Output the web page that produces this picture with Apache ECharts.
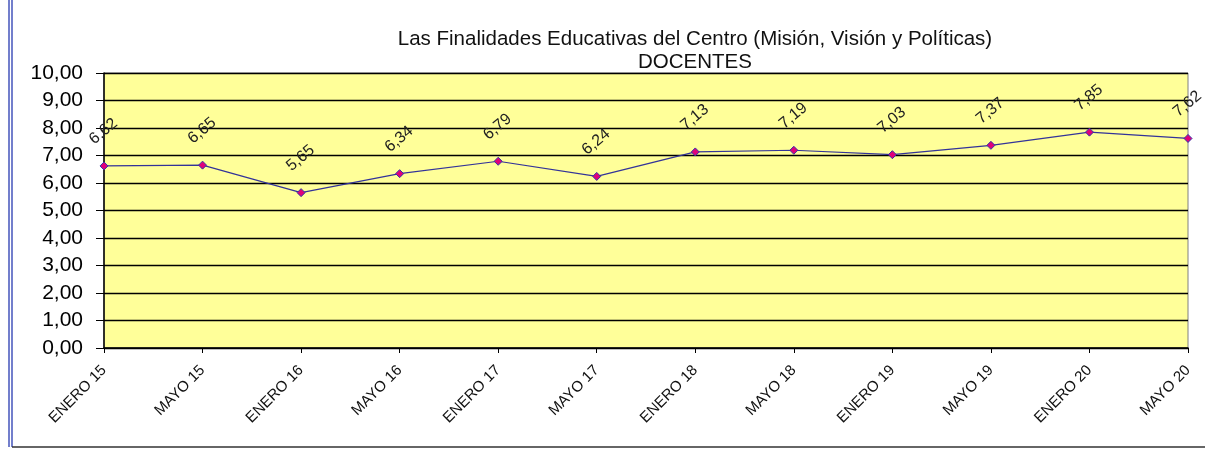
<!DOCTYPE html>
<html><head><meta charset="utf-8">
<script src="https://cdn.jsdelivr.net/npm/echarts@6/dist/echarts.min.js"></script>
<style>html,body{margin:0;padding:0;background:#fff}#c{width:1205px;height:450px}</style>
</head><body><div id="c"></div>
<script>
const categories = ['ENERO 15','MAYO 15','ENERO 16','MAYO 16','ENERO 17','MAYO 17','ENERO 18','MAYO 18','ENERO 19','MAYO 19','ENERO 20','MAYO 20'];
const values = [6.62, 6.65, 5.65, 6.34, 6.79, 6.24, 7.13, 7.19, 7.03, 7.37, 7.85, 7.62];
const titleLine1 = 'Las Finalidades Educativas del Centro (Misión, Visión y Políticas)';
const titleLine2 = 'DOCENTES';

const fmt = v => v.toFixed(2).replace('.', ',');
const chart = echarts.init(document.getElementById('c'), null, {renderer:'canvas'});
const FONT = '"Liberation Sans", Arial, sans-serif';
chart.setOption({
  animation: false,
  title: {
    text: titleLine1 + '\n' + titleLine2,
    left: 690, top: 23, textAlign: 'center',
    textStyle: {fontFamily: FONT, fontSize: 20.5, fontWeight: 'normal', color: '#111', lineHeight: 23}
  },
  grid: {left: 104, right: 17, top: 73, bottom: 102, show: true, backgroundColor: '#FFFF99', borderColor: '#808080', borderWidth: 1},
  xAxis: {
    type: 'category', data: categories, boundaryGap: false,
    axisLine: {lineStyle: {color: '#000', width: 1.5}},
    axisTick: {show: true, length: 5, lineStyle: {color: '#000'}},
    axisLabel: {rotate: 45, fontFamily: FONT, fontSize: 15, color: '#111', margin: 20}
  },
  yAxis: {
    type: 'value', min: 0, max: 10, interval: 1,
    axisLine: {show: true, lineStyle: {color: '#000', width: 1.5}},
    axisTick: {show: true, inside: false, length: 8, lineStyle: {color: '#000'}},
    axisLabel: {formatter: v => fmt(v), fontFamily: FONT, fontSize: 21, color: '#000', margin: 21},
    splitLine: {show: true, lineStyle: {color: '#000', width: 1.3}}
  },
  series: [{
    type: 'line', data: values,
    symbol: 'diamond', symbolSize: 8,
    itemStyle: {color: '#E0007A', borderColor: '#3333AA', borderWidth: 1},
    lineStyle: {color: '#333399', width: 1.2},
    label: {show: true, position: 'top', rotate: 40, distance: 20, offset: [6, 0], formatter: p => fmt(p.value),
      fontFamily: FONT, fontSize: 16, color: '#222'}
  }],
  graphic: [
    {type: 'line', shape: {x1: 9, y1: 0, x2: 9, y2: 447}, style: {stroke: '#4455BB', lineWidth: 1.5}},
    {type: 'line', shape: {x1: 12, y1: 0, x2: 12, y2: 447}, style: {stroke: '#4455BB', lineWidth: 1.5}},
    {type: 'line', shape: {x1: 12, y1: 447, x2: 1205, y2: 447}, style: {stroke: '#333', lineWidth: 1.5}}
  ]
});
</script></body></html>
